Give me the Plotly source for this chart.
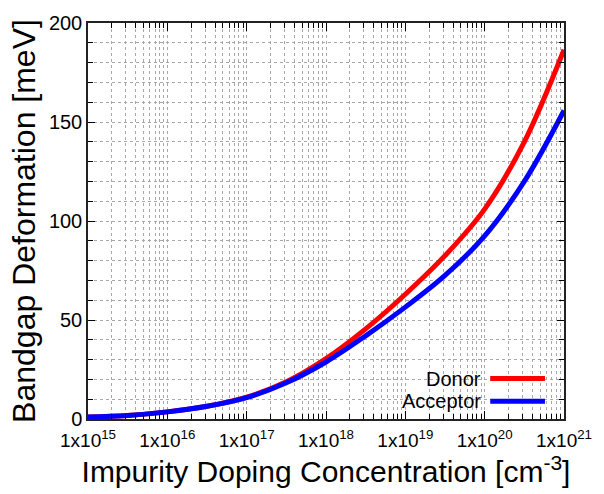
import plotly.graph_objects as go

# Doping concentration (log10 of cm^-3) and band-gap narrowing (meV)
log_conc = [15.0, 15.5, 16.0, 16.5, 17.0, 17.5, 18.0, 18.5, 19.0, 19.5, 20.0, 20.5, 21.0]
donor = [1.0, 1.8, 3.6, 6.4, 11.0, 18.8, 30.5, 45.5, 63.0, 82.5, 106.0, 140.0, 186.5]
acceptor = [1.0, 1.8, 3.6, 6.4, 10.8, 18.3, 28.8, 42.0, 56.5, 72.5, 92.5, 120.0, 155.8]

series_names = ["Donor", "Acceptor"]
series_colors = ["#ff0000", "#0000ff"]

x_tick_exps = [15, 16, 17, 18, 19, 20, 21]
x_tick_text = [f"1x10<sup>{e}</sup>" for e in x_tick_exps]
y_ticks = [0, 50, 100, 150, 200]

conc = [10.0 ** v for v in log_conc]

FONT = "Liberation Sans, Arial, sans-serif"

fig = go.Figure()
for name, vals, col in zip(series_names, [donor, acceptor], series_colors):
    fig.add_trace(go.Scatter(
        x=conc, y=vals, mode="lines", name=name,
        line=dict(color=col, width=5, shape="spline", smoothing=1.0),
        showlegend=False,
    ))

grid_color = "#a8a8a8"

fig.update_layout(
    width=604, height=494,
    margin=dict(l=88, r=32, t=16, b=75),
    paper_bgcolor="white", plot_bgcolor="white",
    font=dict(family=FONT, color="black"),
    xaxis=dict(
        type="log", range=[15, 21],
        tickvals=[10.0 ** e for e in x_tick_exps], ticktext=x_tick_text,
        tickfont=dict(size=19), ticks="inside", ticklen=8, tickcolor="black",
        ticklabelstandoff=3,
        showline=True, linecolor="#222", linewidth=1.5, mirror="allticks",
        showgrid=True, gridcolor=grid_color, griddash="dot", gridwidth=1,
        minor=dict(dtick="D1", ticks="inside", ticklen=5, tickcolor="black",
                   showgrid=True, gridcolor=grid_color, griddash="dot", gridwidth=1),
        title=dict(text="Impurity Doping Concentration [cm<sup>-3</sup>]",
                   font=dict(size=30), standoff=2),
        zeroline=False,
    ),
    yaxis=dict(
        range=[0, 200], tickvals=y_ticks,
        tickfont=dict(size=20), ticks="inside", ticklen=7, tickcolor="black",
        showline=True, linecolor="#222", linewidth=1.5, mirror="allticks",
        showgrid=True, gridcolor=grid_color, griddash="dot", gridwidth=1,
        minor=dict(dtick=10, ticks="inside", ticklen=5, tickcolor="black",
                   showgrid=True, gridcolor=grid_color, griddash="dot", gridwidth=1),
        title=dict(text="Bandgap Deformation [meV]", font=dict(size=32), standoff=4),
        zeroline=False,
    ),
)

# opaque key box over the grid, under the curves
fig.add_shape(type="rect", xref="paper", yref="paper",
              x0=0.64, x1=0.985, y0=0.012, y1=0.135,
              fillcolor="white", line=dict(width=0), layer="between")

# gnuplot-style key: label on the left, line sample on the right
key_rows_y = [0.102, 0.045]
for name, col, ky in zip(series_names, series_colors, key_rows_y):
    fig.add_annotation(
        xref="paper", yref="paper", x=0.83, y=ky, xanchor="right", yanchor="middle",
        text=name, showarrow=False, font=dict(size=20, family=FONT, color="black"),
    )
    fig.add_shape(type="line", xref="paper", yref="paper",
                  x0=0.845, x1=0.96, y0=ky, y1=ky,
                  line=dict(color=col, width=5))

fig.write_html("out.html")
